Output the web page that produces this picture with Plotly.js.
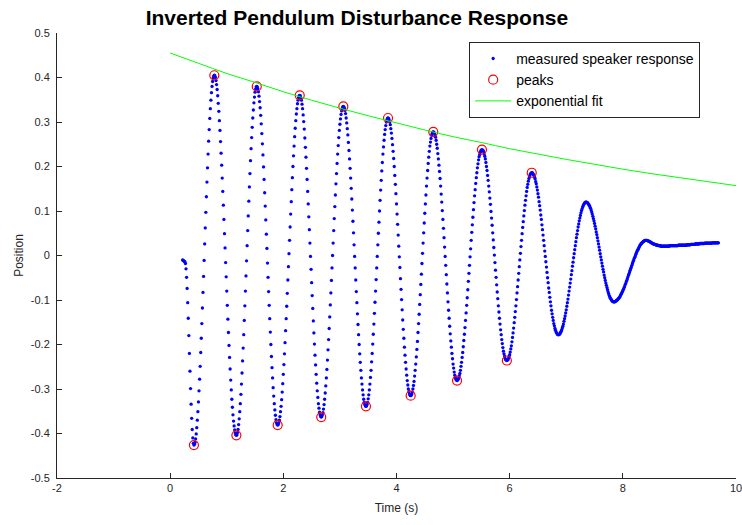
<!DOCTYPE html>
<html>
<head>
<meta charset="utf-8">
<script src="https://cdn.plot.ly/plotly-3.0.1.min.js"></script>
<style>html,body{margin:0;padding:0;background:#fff;}#chart{width:742px;height:525px;}</style>
</head>
<body>
<div id="chart"></div>
<script>
var sampleStart = 0.22;
var sampleStep = 0.01;
var measuredPosition = [
  -0.010,-0.011,-0.012,-0.013,-0.014,
  -0.018,-0.030,-0.049,-0.074,-0.106,-0.141,-0.180,-0.220,-0.260,-0.299,-0.334,-0.366,-0.391,-0.410,-0.422,-0.426,
  -0.424,-0.420,-0.412,-0.401,-0.387,-0.370,-0.351,-0.329,-0.304,-0.278,-0.249,-0.218,-0.186,-0.153,-0.118,-0.083,-0.047,-0.011,0.026,0.062,0.097,0.132,0.165,0.197,0.228,0.257,0.283,0.308,0.330,0.349,0.366,0.380,0.391,0.399,0.403,0.405,
  0.404,0.400,0.393,0.384,0.373,0.359,0.342,0.324,0.303,0.281,0.256,0.230,0.203,0.174,0.144,0.113,0.081,0.049,0.017,-0.016,-0.048,-0.080,-0.112,-0.143,-0.173,-0.202,-0.229,-0.255,-0.280,-0.302,-0.323,-0.341,-0.358,-0.372,-0.383,-0.392,-0.399,-0.403,-0.404,
  -0.403,-0.398,-0.391,-0.380,-0.367,-0.351,-0.333,-0.312,-0.289,-0.264,-0.237,-0.208,-0.178,-0.146,-0.113,-0.080,-0.046,-0.012,0.022,0.056,0.089,0.122,0.154,0.184,0.213,0.240,0.265,0.288,0.309,0.327,0.343,0.356,0.367,0.374,0.379,0.380,
  0.379,0.375,0.368,0.358,0.346,0.332,0.315,0.296,0.274,0.251,0.226,0.199,0.171,0.141,0.111,0.080,0.048,0.016,-0.017,-0.049,-0.081,-0.112,-0.142,-0.172,-0.200,-0.227,-0.252,-0.275,-0.297,-0.316,-0.333,-0.347,-0.359,-0.369,-0.376,-0.380,-0.381,
  -0.380,-0.376,-0.370,-0.362,-0.351,-0.339,-0.324,-0.307,-0.288,-0.267,-0.245,-0.221,-0.196,-0.169,-0.142,-0.114,-0.085,-0.055,-0.025,0.004,0.034,0.064,0.093,0.121,0.148,0.175,0.200,0.224,0.246,0.267,0.286,0.303,0.318,0.330,0.341,0.349,0.355,0.359,0.360,
  0.359,0.355,0.349,0.340,0.330,0.316,0.301,0.284,0.264,0.243,0.221,0.196,0.171,0.144,0.116,0.087,0.058,0.028,-0.002,-0.031,-0.061,-0.090,-0.119,-0.147,-0.174,-0.199,-0.224,-0.246,-0.267,-0.287,-0.304,-0.319,-0.333,-0.343,-0.352,-0.358,-0.362,-0.363,
  -0.362,-0.358,-0.353,-0.345,-0.335,-0.323,-0.309,-0.293,-0.275,-0.256,-0.235,-0.212,-0.189,-0.164,-0.138,-0.111,-0.084,-0.056,-0.028,0.000,0.028,0.056,0.083,0.110,0.136,0.161,0.184,0.207,0.228,0.247,0.265,0.281,0.295,0.307,0.317,0.325,0.330,0.334,0.335,
  0.334,0.331,0.326,0.319,0.309,0.298,0.285,0.271,0.254,0.236,0.217,0.196,0.174,0.151,0.127,0.102,0.077,0.051,0.024,-0.002,-0.028,-0.055,-0.081,-0.106,-0.131,-0.155,-0.178,-0.200,-0.221,-0.240,-0.258,-0.275,-0.289,-0.302,-0.313,-0.323,-0.330,-0.335,-0.338,-0.339,
  -0.338,-0.335,-0.330,-0.322,-0.313,-0.302,-0.289,-0.274,-0.258,-0.239,-0.220,-0.199,-0.177,-0.154,-0.130,-0.105,-0.080,-0.054,-0.028,-0.002,0.024,0.050,0.075,0.100,0.124,0.147,0.169,0.190,0.209,0.228,0.244,0.259,0.272,0.283,0.292,0.300,0.305,0.308,0.309,
  0.308,0.305,0.300,0.294,0.285,0.275,0.263,0.249,0.234,0.218,0.200,0.180,0.160,0.139,0.116,0.093,0.070,0.046,0.021,-0.003,-0.027,-0.052,-0.076,-0.099,-0.122,-0.145,-0.166,-0.186,-0.206,-0.224,-0.240,-0.255,-0.269,-0.281,-0.291,-0.300,-0.306,-0.311,-0.314,-0.315,
  -0.314,-0.311,-0.307,-0.300,-0.292,-0.283,-0.271,-0.258,-0.244,-0.228,-0.211,-0.193,-0.173,-0.153,-0.132,-0.110,-0.088,-0.065,-0.042,-0.018,0.005,0.028,0.051,0.073,0.095,0.116,0.136,0.156,0.174,0.191,0.207,0.221,0.234,0.246,0.255,0.263,0.270,0.274,0.277,0.278,
  0.277,0.275,0.271,0.266,0.259,0.250,0.241,0.229,0.217,0.203,0.189,0.173,0.156,0.138,0.120,0.101,0.081,0.061,0.040,0.019,-0.002,-0.022,-0.043,-0.064,-0.084,-0.104,-0.123,-0.141,-0.159,-0.176,-0.192,-0.206,-0.220,-0.232,-0.244,-0.253,-0.262,-0.269,-0.274,-0.278,-0.280,-0.281,
  -0.280,-0.278,-0.275,-0.270,-0.265,-0.258,-0.249,-0.240,-0.229,-0.218,-0.205,-0.191,-0.177,-0.162,-0.146,-0.129,-0.112,-0.095,-0.077,-0.058,-0.040,-0.022,-0.003,0.015,0.034,0.052,0.069,0.086,0.103,0.119,0.134,0.148,0.162,0.175,0.186,0.197,0.206,0.215,0.222,0.227,0.232,0.235,0.237,0.238,
  0.237,0.236,0.233,0.228,0.223,0.217,0.209,0.200,0.191,0.180,0.169,0.156,0.143,0.129,0.115,0.099,0.084,0.068,0.051,0.035,0.018,0.001,-0.016,-0.033,-0.049,-0.066,-0.082,-0.097,-0.113,-0.127,-0.141,-0.154,-0.167,-0.178,-0.189,-0.198,-0.207,-0.215,-0.221,-0.226,-0.231,-0.234,-0.235,-0.236,
  -0.235,-0.234,-0.231,-0.227,-0.223,-0.217,-0.210,-0.203,-0.194,-0.184,-0.174,-0.163,-0.151,-0.139,-0.126,-0.113,-0.099,-0.084,-0.070,-0.055,-0.040,-0.025,-0.010,0.005,0.020,0.034,0.049,0.063,0.076,0.089,0.101,0.113,0.124,0.134,0.144,0.153,0.160,0.167,0.173,0.177,0.181,0.184,0.185,0.186,
  0.186,0.184,0.182,0.180,0.176,0.172,0.166,0.161,0.154,0.147,0.139,0.131,0.121,0.112,0.102,0.091,0.081,0.069,0.058,0.046,0.034,0.022,0.010,-0.002,-0.014,-0.026,-0.038,-0.050,-0.061,-0.073,-0.083,-0.094,-0.104,-0.113,-0.123,-0.131,-0.139,-0.146,-0.153,-0.158,-0.164,-0.168,-0.172,-0.174,-0.176,-0.178,-0.178,
  -0.178,-0.177,-0.175,-0.173,-0.170,-0.167,-0.163,-0.159,-0.154,-0.148,-0.142,-0.136,-0.129,-0.122,-0.114,-0.106,-0.098,-0.089,-0.080,-0.071,-0.062,-0.053,-0.043,-0.034,-0.024,-0.015,-0.005,0.004,0.013,0.022,0.031,0.040,0.048,0.056,0.064,0.071,0.078,0.084,0.090,0.096,0.101,0.105,0.109,0.112,0.115,0.117,0.119,0.120,0.120,
  0.120,0.119,0.118,0.116,0.114,0.112,0.109,0.106,0.102,0.098,0.093,0.088,0.083,0.078,0.072,0.066,0.060,0.053,0.047,0.040,0.033,0.026,0.019,0.012,0.004,-0.003,-0.010,-0.017,-0.024,-0.031,-0.037,-0.044,-0.050,-0.056,-0.062,-0.067,-0.072,-0.077,-0.082,-0.086,-0.090,-0.093,-0.096,-0.098,-0.100,-0.102,-0.103,-0.104,-0.104,
  -0.104,-0.104,-0.103,-0.102,-0.101,-0.100,-0.099,-0.097,-0.096,-0.094,-0.092,-0.089,-0.087,-0.084,-0.082,-0.079,-0.076,-0.073,-0.070,-0.066,-0.063,-0.059,-0.056,-0.052,-0.048,-0.044,-0.041,-0.037,-0.033,-0.029,-0.026,-0.022,-0.018,-0.014,-0.011,-0.007,-0.004,-0.001,0.003,0.006,0.009,0.012,0.014,0.017,0.019,0.022,0.024,0.026,0.027,0.029,0.030,0.031,0.032,0.033,0.034,0.034,0.034,
  0.034,0.034,0.033,0.033,0.032,0.031,0.031,0.030,0.029,0.028,0.028,0.027,0.026,0.026,0.025,0.025,0.024,0.024,0.023,0.023,0.023,0.022,0.022,0.022,0.022,0.021,0.021,0.021,0.021,0.021,0.021,
  0.021,0.021,0.021,0.021,0.021,0.021,0.021,0.021,0.021,0.021,
  0.022,0.022,0.022,0.022,0.022,0.022,0.022,0.022,0.022,0.022,0.022,0.022,0.022,0.022,0.022,
  0.023,0.023,0.023,0.023,0.023,0.023,0.023,0.023,0.023,0.023,0.023,0.023,0.023,0.023,0.023,
  0.024,0.024,0.024,0.024,0.024,0.024,0.024,
  0.025,0.025,0.025,0.025,0.025,0.025,0.025,0.025,
  0.026,0.026,0.026,0.026,0.026,0.026,0.026,0.026,
  0.027,0.027,0.027,0.027,0.027,0.027,0.027,0.027,0.027,
  0.028,0.028,0.028,0.028,0.028,0.028,0.028,0.028,0.028,0.028,0.028,0.028,0.028,
  0.0285,0.0285,0.0285,0.0285,0.0285,0.0285,0.0285,0.0285,0.0285,0.0285,0.0285,0.0285
];

// Detected peaks (red circles)
var peakTime  = [0.42, 0.78, 1.17, 1.53, 1.90, 2.29, 2.67, 3.06, 3.46, 3.85, 4.25, 4.65, 5.07, 5.51, 5.95, 6.39];
var peakValue = [-0.426, 0.405, -0.404, 0.380, -0.381, 0.360, -0.363, 0.335, -0.339, 0.309, -0.315, 0.278, -0.281, 0.238, -0.236, 0.186];

// Exponential fit (green curve)
var fitTime  = [0, 0.5, 1, 1.5, 2, 2.5, 3, 3.5, 4, 4.5, 5, 5.5, 6, 6.5, 7, 7.5, 8, 8.5, 9, 9.5, 10];
var fitValue = [0.455, 0.432, 0.409, 0.389, 0.368, 0.349, 0.331, 0.314, 0.298, 0.282, 0.267, 0.254, 0.240, 0.228, 0.216, 0.205, 0.194, 0.184, 0.175, 0.166, 0.157];

// Axis ticks
var xTickVals = [-2, 0, 2, 4, 6, 8, 10];
var xTickText = ['-2', '0', '2', '4', '6', '8', '10'];
var yTickVals = [-0.5, -0.4, -0.3, -0.2, -0.1, 0, 0.1, 0.2, 0.3, 0.4, 0.5];
var yTickText = ['-0.5', '-0.4', '-0.3', '-0.2', '-0.1', '0', '0.1', '0.2', '0.3', '0.4', '0.5'];

var FONT = '"Liberation Sans", Arial, Helvetica, sans-serif';
var AXC = '#262626';

var traces = [
  {
    type: 'scatter', mode: 'markers', name: 'measured speaker response',
    x0: sampleStart, dx: sampleStep, y: measuredPosition,
    marker: {color: '#0000ff', size: 3.3, line: {width: 0}}
  },
  {
    type: 'scatter', mode: 'markers', name: 'peaks',
    x: peakTime, y: peakValue,
    marker: {symbol: 'circle-open', color: '#ff0000', size: 9, line: {width: 1.2, color: '#ff0000'}}
  },
  {
    type: 'scatter', mode: 'lines', name: 'exponential fit',
    x: fitTime, y: fitValue,
    line: {color: '#00ff00', width: 1, shape: 'spline'}
  }
];

var layout = {
  width: 742, height: 525,
  margin: {l: 57, r: 6, t: 33, b: 47, pad: 0},
  paper_bgcolor: '#ffffff', plot_bgcolor: '#ffffff',
  font: {family: FONT, size: 11, color: AXC},
  title: {
    text: 'Inverted Pendulum Disturbance Response',
    font: {family: FONT, size: 21, color: '#000000', weight: 'bold'},
    x: 0.481, xref: 'container', xanchor: 'center',
    y: 0.967, yref: 'container', yanchor: 'middle'
  },
  xaxis: {
    range: [-2, 10], tickvals: xTickVals, ticktext: xTickText,
    ticks: 'inside', ticklen: 5, tickwidth: 1, tickcolor: AXC,
    showline: true, linecolor: AXC, linewidth: 1, mirror: false,
    showgrid: false, zeroline: false,
    ticklabeloverflow: 'allow',
    tickfont: {family: FONT, size: 11, color: AXC},
    title: {text: 'Time (s)', font: {family: FONT, size: 12, color: AXC}, standoff: 10}
  },
  yaxis: {
    range: [-0.5, 0.5], tickvals: yTickVals, ticktext: yTickText,
    ticks: 'inside', ticklen: 5, tickwidth: 1, tickcolor: AXC,
    showline: true, linecolor: AXC, linewidth: 1, mirror: false,
    showgrid: false, zeroline: false,
    ticklabeloverflow: 'allow',
    tickfont: {family: FONT, size: 11, color: AXC},
    ticklabelstandoff: 4,
    title: {text: 'Position', font: {family: FONT, size: 12, color: AXC}, standoff: 4}
  },
  legend: {
    x: 0.607, y: 0.98, xanchor: 'left', yanchor: 'top',
    bgcolor: '#ffffff', bordercolor: AXC, borderwidth: 1,
    font: {family: FONT, size: 14, color: '#000000'},
    itemwidth: 36,
    entrywidth: 250, entrywidthmode: 'pixels',
    tracegroupgap: 0
  },
  showlegend: true
};

Plotly.newPlot('chart', traces, layout, {staticPlot: true, displayModeBar: false});
</script>
</body>
</html>
